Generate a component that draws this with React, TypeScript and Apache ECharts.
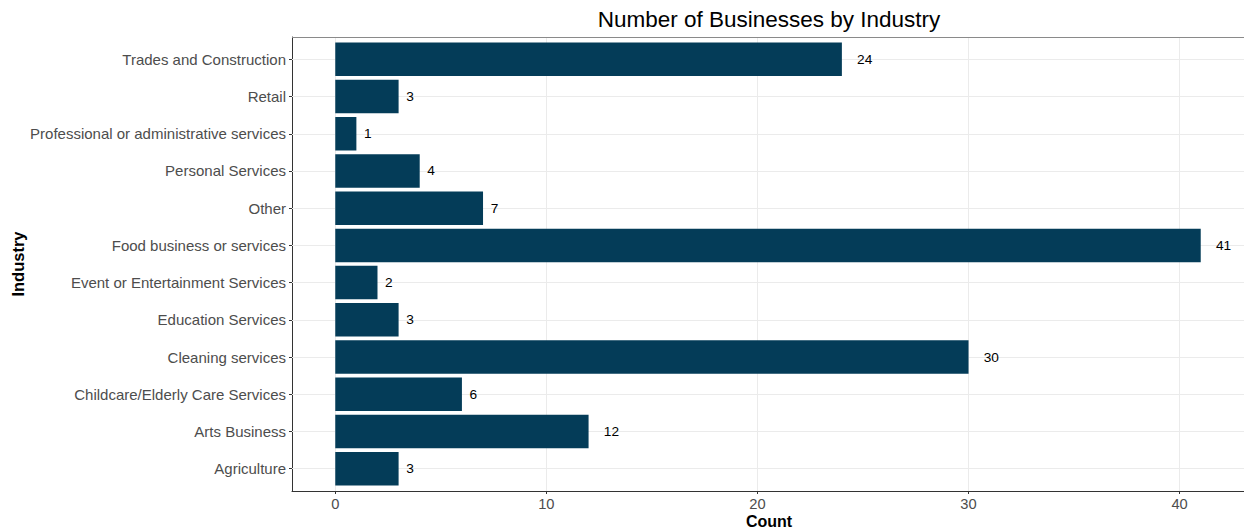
import React, { useEffect, useRef } from "react";
import * as echarts from "echarts";

const categories = [
  "Agriculture",
  "Arts Business",
  "Childcare/Elderly Care Services",
  "Cleaning services",
  "Education Services",
  "Event or Entertainment Services",
  "Food business or services",
  "Other",
  "Personal Services",
  "Professional or administrative services",
  "Retail",
  "Trades and Construction",
];
const counts = [3, 12, 6, 30, 3, 2, 41, 7, 4, 1, 3, 24];
const xTicks = [0, 10, 20, 30, 40];

const FONT = "'Liberation Sans', Arial, sans-serif";
const X_MIN = -2.05;
const X_MAX = 43.05;

const PANEL_LEFT = 292;
const PANEL_TOP = 37;
const PANEL_W = 954;
const PANEL_H = 454;
const BAND = PANEL_H / 12.2;

export default function App() {
  const ref = useRef<HTMLDivElement>(null);
  useEffect(() => {
    if (!ref.current) return;
    const chart = echarts.init(ref.current, null, { renderer: "svg" });
    const option: any = {
      animation: false,
      backgroundColor: "#ffffff",
      textStyle: { fontFamily: FONT },
      grid: [
        {
          left: PANEL_LEFT,
          top: PANEL_TOP + BAND * 0.1,
          width: PANEL_W,
          height: BAND * 12,
          containLabel: false,
        },
        {
          left: PANEL_LEFT,
          top: PANEL_TOP,
          width: PANEL_W,
          height: PANEL_H,
          show: false,
          containLabel: false,
        },
      ],
      xAxis: [
        {
          gridIndex: 0,
          type: "value",
          min: X_MIN,
          max: X_MAX,
          show: false,
        },
        {
          gridIndex: 1,
          type: "value",
          min: X_MIN,
          max: X_MAX,
          axisLine: {
            show: true,
            onZero: false,
            lineStyle: { color: "#333333", width: 1 },
          },
          axisTick: {
            show: true,
            length: 3,
            lineStyle: { color: "#333333" },
            customValues: xTicks,
          },
          axisLabel: {
            show: true,
            color: "#4d4d4d",
            fontSize: 14.7,
            fontFamily: FONT,
            margin: 5,
            customValues: xTicks,
          },
          splitLine: { show: true, lineStyle: { color: "#ebebeb", width: 1 } },
          minorSplitLine: { show: false },
        },
      ],
      yAxis: [
        {
          gridIndex: 0,
          type: "category",
          data: categories,
          axisLine: { show: false, onZero: false },
          axisTick: {
            show: true,
            alignWithLabel: true,
            length: 3,
            lineStyle: { color: "#333333" },
          },
          axisLabel: {
            color: "#4d4d4d",
            fontSize: 15,
            fontFamily: FONT,
            margin: 6,
            interval: 0,
          },
          splitLine: { show: false },
        },
        {
          gridIndex: 1,
          type: "value",
          min: 0,
          max: 1,
          axisLine: {
            show: true,
            onZero: false,
            lineStyle: { color: "#333333", width: 1 },
          },
          axisTick: { show: false },
          axisLabel: { show: false },
          splitLine: { show: false },
        },
      ],
      series: [
        {
          type: "bar",
          xAxisIndex: 0,
          yAxisIndex: 0,
          z: 3,
          barCategoryGap: "10%",
          itemStyle: { color: "#043c58" },
          label: {
            show: true,
            position: "right",
            color: "#000000",
            fontSize: 13.7,
            fontFamily: FONT,
          },
          data: counts.map((v) => ({
            value: v,
            label: { distance: String(v).length * 7.6 },
          })),
          markLine: {
            z: 1,
            silent: true,
            symbol: ["none", "none"],
            label: { show: false },
            lineStyle: { color: "#ebebeb", width: 1, type: "solid" },
            data: categories.map((c) => ({ yAxis: c })),
          },
        },
      ],
      graphic: [
        {
          type: "line",
          silent: true,
          z: 10,
          shape: {
            x1: PANEL_LEFT,
            y1: PANEL_TOP + 0.5,
            x2: 1244,
            y2: PANEL_TOP + 0.5,
          },
          style: { stroke: "#8a8a8a", lineWidth: 1 },
        },
        {
          type: "text",
          x: PANEL_LEFT + PANEL_W / 2,
          y: 19,
          style: {
            text: "Number of Businesses by Industry",
            fill: "#000000",
            fontSize: 22.5,
            fontFamily: FONT,
            textAlign: "center",
            textVerticalAlign: "middle",
          },
        },
        {
          type: "text",
          x: PANEL_LEFT + PANEL_W / 2,
          y: 521,
          style: {
            text: "Count",
            fill: "#000000",
            fontSize: 16,
            fontWeight: "bold",
            fontFamily: FONT,
            textAlign: "center",
            textVerticalAlign: "middle",
          },
        },
        {
          type: "text",
          x: 18,
          y: PANEL_TOP + PANEL_H / 2,
          rotation: Math.PI / 2,
          style: {
            text: "Industry",
            fill: "#000000",
            fontSize: 16.5,
            fontWeight: "bold",
            fontFamily: FONT,
            textAlign: "center",
            textVerticalAlign: "middle",
          },
        },
      ],
    };
    chart.setOption(option);
    return () => chart.dispose();
  }, []);
  return (
    <div
      ref={ref}
      style={{ position: "fixed", left: 0, top: 0, width: 1244, height: 531 }}
    />
  );
}
